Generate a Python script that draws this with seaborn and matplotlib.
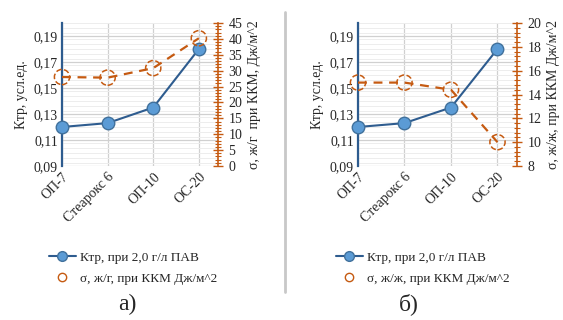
import pandas as pd
import seaborn as sns
import matplotlib.pyplot as plt
from matplotlib.lines import Line2D
from matplotlib.ticker import MultipleLocator, FuncFormatter

# data
surfactants = ['ОП-7', 'Стеарокс 6', 'ОП-10', 'ОС-20']
ktr = [0.120, 0.123, 0.135, 0.180]
sigma_a = [28.0, 27.8, 30.8, 40.2]
sigma_b = [15.0, 15.0, 14.4, 10.0]

ktr_label = 'Ктр, при 2,0 г/л ПАВ'
sigma_a_label = 'σ, ж/г, при ККМ Дж/м^2'
sigma_b_label = 'σ, ж/ж, при ККМ Дж/м^2'
right_a_ylabel = 'σ, ж/г  при ККМ, Дж/м^2'
right_b_ylabel = 'σ, ж/ж, при ККМ Дж/м^2'

sns.set_style('white')
plt.rcParams['font.family'] = ['Liberation Serif', 'DejaVu Serif']

blue_line = '#2E5C8F'
blue_fill = '#5B9BD5'
blue_edge = '#41719C'
orange = '#C55A11'

fig = plt.figure(figsize=(5.63, 3.2), dpi=100)


def panel(left, width, sigma, s_lim, s_major, s_minor, ylabel2, leg_label, leg_x, caption, cap_x):
    df = pd.DataFrame({'x': range(len(surfactants)), 'ktr': ktr, 'sigma': sigma})
    ax = fig.add_axes([left / 563, 154 / 320, width / 563, 143 / 320])
    ax2 = ax.twinx()

    # grid
    ax.set_axisbelow(True)
    ax.yaxis.set_major_locator(MultipleLocator(0.02))
    ax.yaxis.set_minor_locator(MultipleLocator(0.004))
    ax.grid(axis='y', which='major', color='#D0D0D0', lw=0.9)
    ax.grid(axis='y', which='minor', color='#EDEDED', lw=0.7)
    ax.grid(axis='x', which='major', color='#D0D0D0', lw=0.9)

    # Ktr line
    sns.lineplot(data=df, x='x', y='ktr', ax=ax, color=blue_line, lw=1.5,
                 marker='o', markersize=9, markerfacecolor=blue_fill,
                 markeredgecolor=blue_edge, markeredgewidth=1, clip_on=False, zorder=5)

    # sigma dashed line and dashed open circles
    sns.lineplot(data=df, x='x', y='sigma', ax=ax2, color=orange, lw=1.6,
                 linestyle=(0, (4, 3)), clip_on=False)
    sns.scatterplot(data=df, x='x', y='sigma', ax=ax2, s=120, facecolor='none',
                    edgecolor=orange, linewidth=1.1, linestyle='--', clip_on=False)

    ax.set_xlim(0, 3.42)
    ax.set_ylim(0.09, 0.20)
    ax2.set_ylim(*s_lim)
    ax.set_xticks(range(len(surfactants)))
    ax.set_xticklabels(surfactants, rotation=45, ha='right', rotation_mode='anchor', fontsize=9.5)
    ax.yaxis.set_major_formatter(FuncFormatter(lambda v, p: f'{v:.2f}'.replace('.', ',')))
    ax.set_yticks([0.09, 0.11, 0.13, 0.15, 0.17, 0.19])
    ax.tick_params(axis='both', which='both', length=0, labelsize=10, pad=3)
    ax.set_xlabel('')
    ax.set_ylabel('Ктр, усл.ед.', fontsize=10, labelpad=4)

    ax2.yaxis.set_major_locator(MultipleLocator(s_major))
    ax2.yaxis.set_minor_locator(MultipleLocator(s_minor))
    ax2.tick_params(axis='y', which='major', direction='inout', length=7, color=orange,
                    width=1, labelsize=10, pad=4)
    ax2.tick_params(axis='y', which='minor', direction='inout', length=5, color=orange, width=0.8)
    ax2.set_ylabel(ylabel2, fontsize=10, labelpad=4)

    for a in (ax, ax2):
        for sp in a.spines.values():
            sp.set_visible(False)
    ax.spines['left'].set_visible(True)
    ax.spines['left'].set_color(blue_line)
    ax.spines['left'].set_linewidth(1.6)
    ax2.spines['right'].set_visible(True)
    ax2.spines['right'].set_color(orange)
    ax2.spines['right'].set_linewidth(1.2)

    handles = [
        Line2D([], [], color=blue_line, lw=1.5, marker='o', markersize=7,
               markerfacecolor=blue_fill, markeredgecolor=blue_edge),
        Line2D([], [], color=orange, lw=0, marker='o', markersize=6,
               markerfacecolor='none', markeredgecolor=orange, markeredgewidth=1, linestyle='none'),
    ]
    fig.legend(handles, [ktr_label, leg_label], loc='upper left',
               bbox_to_anchor=(leg_x / 563, 1 - 246 / 320), frameon=False,
               fontsize=9.5, handlelength=2.0, handletextpad=0.3, labelspacing=0.7,
               borderaxespad=0)
    fig.text(cap_x / 563, 1 - 304 / 320, caption, fontsize=17, ha='center', va='center')


panel(62, 156, sigma_a, (0, 45), 5, 1, right_a_ylabel, sigma_a_label, 44, 'а)', 127)
panel(358, 159, sigma_b, (8, 20), 2, 0.4, right_b_ylabel, sigma_b_label, 331, 'б)', 409)

# separator between the panels
fig.add_artist(Line2D([285 / 563, 285 / 563], [1 - 12 / 320, 1 - 292 / 320],
                      color='#C8C8C8', lw=2))

fig.savefig('out.png', dpi=100)
